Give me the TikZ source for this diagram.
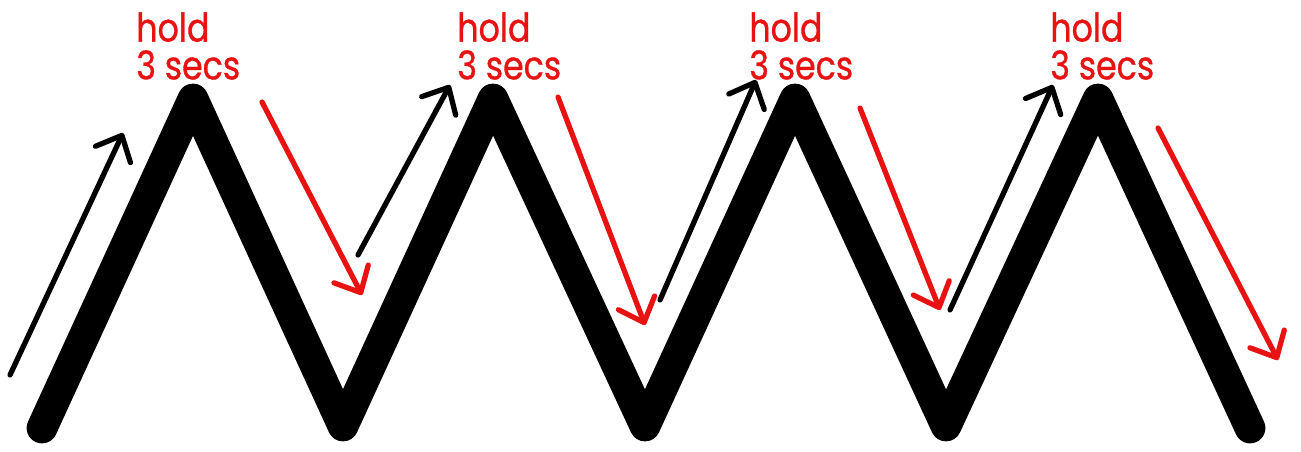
\documentclass[tikz,border=0pt]{standalone}
\usepackage{fontspec}
\setmainfont{Poppins}
\newfontfamily\holdfont{Poppins}[FakeStretch=0.84, FakeBold=0.8]
\usetikzlibrary{arrows.meta}
\definecolor{holdred}{RGB}{232, 18, 18}

\begin{document}
\begin{tikzpicture}[x=0.02cm, y=-0.02cm,
    zig/.style={line width=17.5pt, line cap=round, line join=round},
    uparrow/.style={line width=3pt, line cap=round,
        -{Straight Barb[length=12pt, width=22pt, line width=3pt, round]}},
    downarrow/.style={uparrow, holdred},
    holdlabel/.style={holdred, anchor=north west, inner sep=0pt, align=left,
        font=\holdfont\fontsize{22.5}{21.5}\selectfont}]

\useasboundingbox (0,0) rectangle (1301,452);

% === Zigzag ===
\foreach \i/\x/\y in {0/42/428, 1/193/99, 2/343/426, 3/493/99, 4/645/426,
                      5/795/99, 6/946/426, 7/1098/99, 8/1250/428} {
    \coordinate (z\i) at (\x,\y);
}
\draw[zig] (z0) -- (z1) -- (z2) -- (z3) -- (z4) -- (z5) -- (z6) -- (z7) -- (z8);

% === Flechas hacia arriba ===
\coordinate (u1s) at (10,375);   \coordinate (u1e) at (123,133);
\coordinate (u2s) at (358,255);  \coordinate (u2e) at (450,85);
\coordinate (u3s) at (660,300);  \coordinate (u3e) at (756,80);
\coordinate (u4s) at (950,310);  \coordinate (u4e) at (1053,85);
\foreach \n in {1,2,3,4} {
    \draw[uparrow] (u\n s) -- (u\n e);
}

% === Flechas hacia abajo ===
\coordinate (d1s) at (262,102);  \coordinate (d1e) at (362,295);
\coordinate (d2s) at (558,97);   \coordinate (d2e) at (645,325);
\coordinate (d3s) at (860,108);  \coordinate (d3e) at (940,310);
\coordinate (d4s) at (1158,128); \coordinate (d4e) at (1278,360);
\foreach \n in {1,2,3,4} {
    \draw[downarrow] (d\n s) -- (d\n e);
}

% === Etiquetas ===
\foreach \n/\x in {1/136, 2/457, 3/749, 4/1050} {
    \node[holdlabel] (hold\n) at (\x,12) {hold\\3 secs};
}

\end{tikzpicture}
\end{document}
